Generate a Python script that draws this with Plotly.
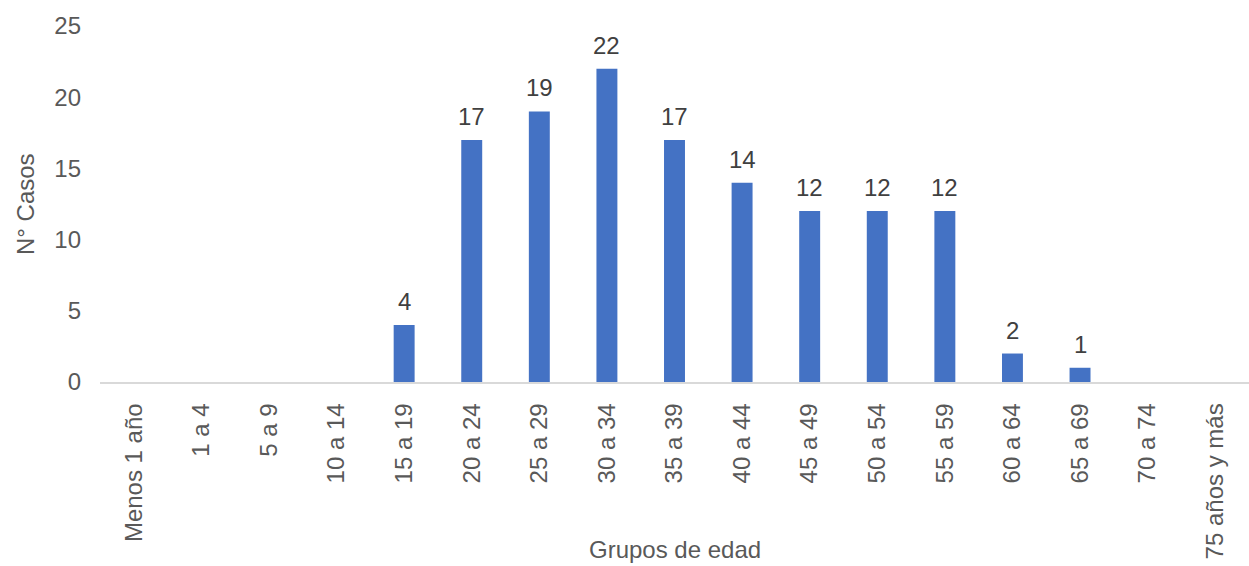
import plotly.graph_objects as go

grupos = ["Menos 1 año", "1 a 4", "5 a 9", "10 a 14", "15 a 19", "20 a 24",
          "25 a 29", "30 a 34", "35 a 39", "40 a 44", "45 a 49", "50 a 54",
          "55 a 59", "60 a 64", "65 a 69", "70 a 74", "75 años y más"]
casos = [0, 0, 0, 0, 4, 17, 19, 22, 17, 14, 12, 12, 12, 2, 1, 0, 0]
y_ticks = [0, 5, 10, 15, 20, 25]

FONT = "Liberation Sans, Arial"
GRIS = "#595959"

fig = go.Figure(go.Bar(
    x=grupos,
    y=casos,
    marker=dict(color="#4472C4", line=dict(width=0)),
    hoverinfo="x+y",
))

# value labels above each non-empty bar
etiquetas = [
    dict(x=g, y=v, text=str(v), xref="x", yref="y", xanchor="center",
         yanchor="bottom", yshift=8, showarrow=False,
         font=dict(family=FONT, size=24, color="#404040"))
    for g, v in zip(grupos, casos) if v > 0
]

titulos = [
    dict(text="N° Casos", xref="paper", yref="paper", x=0, y=0.5,
         xanchor="center", yanchor="middle", xshift=-75, textangle=-90,
         showarrow=False, font=dict(size=24, color=GRIS)),
    dict(text="Grupos de edad", xref="paper", yref="paper", x=0.5, y=0,
         xanchor="center", yanchor="middle", yshift=-167,
         showarrow=False, font=dict(size=24, color=GRIS)),
]

fig.update_layout(
    width=1249,
    height=566,
    margin=dict(l=100, r=0, t=26, b=184),
    paper_bgcolor="white",
    plot_bgcolor="white",
    bargap=0.69,
    showlegend=False,
    font=dict(family=FONT, color=GRIS, size=24),
    xaxis=dict(
        tickangle=-90,
        showline=True,
        linecolor="#D9D9D9",
        linewidth=1.5,
        ticks="",
        showgrid=False,
        ticklabelstandoff=10,
        tickfont=dict(size=24, color=GRIS),
    ),
    yaxis=dict(
        range=[0, 25],
        tickvals=y_ticks,
        showline=False,
        showgrid=False,
        zeroline=False,
        ticks="",
        ticklabelstandoff=18,
        tickfont=dict(size=24, color=GRIS),
    ),
    annotations=etiquetas + titulos,
)

fig.write_html("out.html")
